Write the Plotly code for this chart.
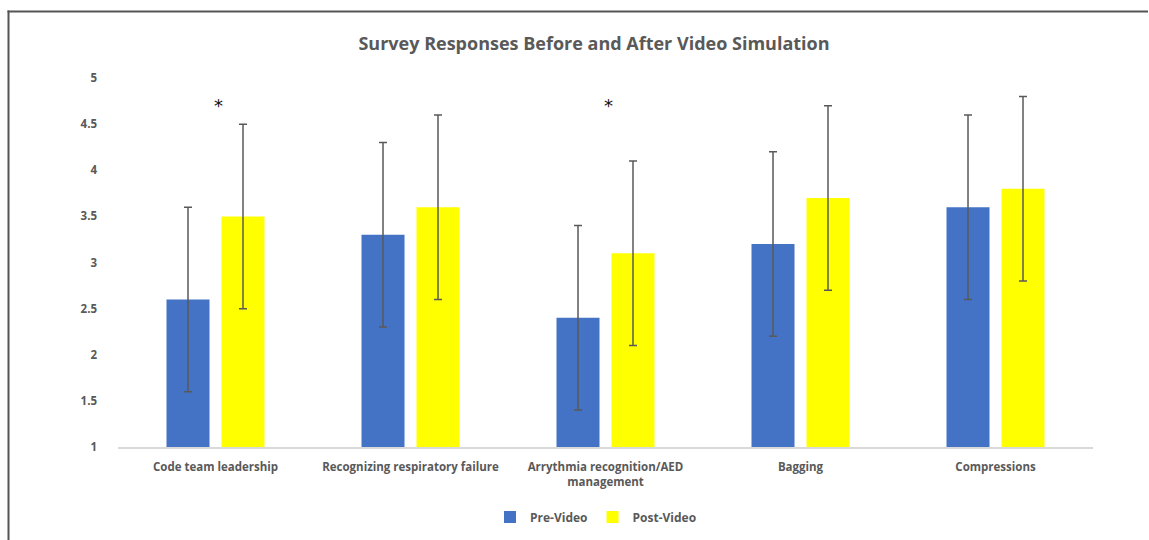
import plotly.graph_objects as go

# Survey items and mean scores (1-5 Likert) before and after the video simulation
categories = [
    "Code team leadership",
    "Recognizing respiratory failure",
    "Arrythmia recognition/AED<br>management",
    "Bagging",
    "Compressions",
]
pre_video = [2.6, 3.3, 2.4, 3.2, 3.6]
post_video = [3.5, 3.6, 3.1, 3.7, 3.8]
pre_sd = [1.0, 1.0, 1.0, 1.0, 1.0]
post_sd = [1.0, 1.0, 1.0, 1.0, 1.0]

# Items with a significant change are flagged with an asterisk
significant = ["Code team leadership", "Arrythmia recognition/AED<br>management"]
star_level = 4.70

y_ticks = [1, 1.5, 2, 2.5, 3, 3.5, 4, 4.5, 5]
y_tick_text = ["1", "1.5", "2", "2.5", "3", "3.5", "4", "4.5", "5"]

W, H = 1149, 540
ML, MR, MT, MB = 118, 56, 78, 93
label_font = dict(family="Open Sans, sans-serif", size=11.5, color="#595959", weight="bold")

err_style = dict(type="data", color="#595959", thickness=1.5, width=4)

fig = go.Figure()
fig.add_trace(go.Bar(
    name="Pre-Video", x=categories, y=pre_video,
    marker=dict(color="#4472C4", line=dict(width=0)),
    error_y=dict(array=pre_sd, **err_style),
))
fig.add_trace(go.Bar(
    name="Post-Video", x=categories, y=post_video,
    marker=dict(color="#FFFF00", line=dict(width=0)),
    error_y=dict(array=post_sd, **err_style),
))

for cat in significant:
    fig.add_annotation(
        x=cat, y=star_level, xref="x", yref="y", text="*", showarrow=False,
        xshift=3,
        font=dict(family="DejaVu Sans, sans-serif", size=18, color="#111111"),
        yanchor="middle",
    )

# Frame along the top and left edge of the figure
pw, ph = W - ML - MR, H - MT - MB
def px_x(p):
    return (p - ML) / pw
def px_y(p):
    return (H - MB - p) / ph

frame = dict(type="line", xref="paper", yref="paper", line=dict(color="#555555", width=2))
fig.add_shape(x0=px_x(8.5), x1=px_x(8.5), y0=px_y(H), y1=px_y(10.5), **frame)
fig.add_shape(x0=px_x(7.5), x1=px_x(W - 1), y0=px_y(11.5), y1=px_y(11.5), **frame)

fig.update_layout(
    width=W, height=H,
    margin=dict(l=ML, r=MR, t=MT, b=MB, autoexpand=False),
    paper_bgcolor="white", plot_bgcolor="white",
    barmode="group", bargap=0.436, bargroupgap=0.218,
    title=dict(
        text="Survey Responses Before and After Video Simulation",
        x=594 / W, xanchor="center",
        y=1 - 44 / H, yanchor="middle",
        font=dict(family="Open Sans, sans-serif", size=18, color="#595959", weight="bold"),
    ),
    legend=dict(
        orientation="h", x=(596 - ML) / pw, xanchor="center",
        y=px_y(517), yanchor="middle",
        font=dict(family="Open Sans, sans-serif", size=12, color="#595959", weight="bold"),
        itemwidth=30, traceorder="normal",
    ),
    showlegend=True,
)
fig.update_xaxes(
    showgrid=False, showline=True, linecolor="#D9D9D9", linewidth=1.5,
    ticks="", tickfont=label_font, ticklabelstandoff=8,
    range=[-0.5, 4.5],
)
fig.update_yaxes(
    range=[1, 5], tickvals=y_ticks, ticktext=y_tick_text,
    showgrid=False, showline=False, zeroline=False, ticks="",
    tickfont=label_font, ticklabelstandoff=20,
)

fig.write_html(
    "out.html",
    config={"displayModeBar": False},
    post_script="document.documentElement.style.overflow='hidden';"
                "document.body.style.overflow='hidden';document.body.style.margin='0';",
)
